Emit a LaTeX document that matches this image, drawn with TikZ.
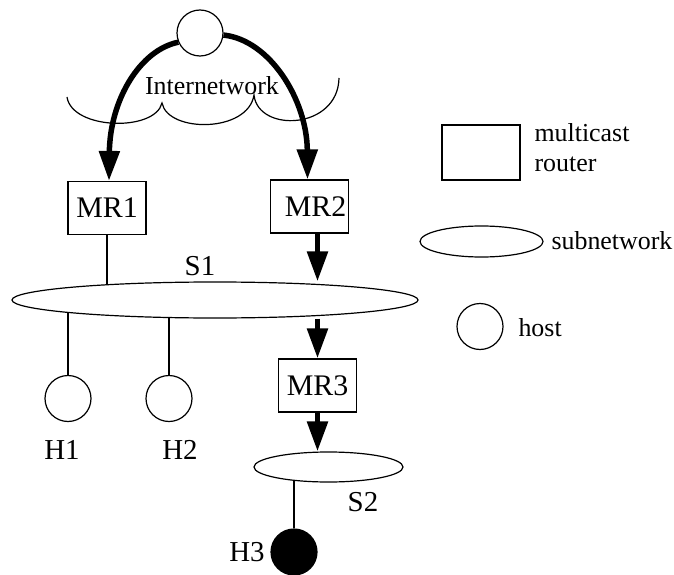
\documentclass[tikz,border=0pt]{standalone}
\usepackage{fontspec}
\setmainfont{Liberation Serif}
\usetikzlibrary{arrows.meta,shapes.geometric,backgrounds}
\begin{document}
\begin{tikzpicture}[x=1bp,y=-1bp,
  thin line/.style={line width=1.2bp},
  router/.style={draw,thin line,fill=white,minimum width=78bp,minimum height=53bp,
    inner sep=0pt,font=\fontsize{30}{34}\selectfont},
  subnet/.style={draw,thin line,fill=white,ellipse,inner sep=0pt},
  host/.style={draw,thin line,fill=white,circle,minimum size=46bp,inner sep=0pt},
  flow/.style={line width=5.5bp,-{Triangle[length=30bp,width=20bp]}},
  lbl/.style={font=\fontsize{29}{33}\selectfont},
  keytext/.style={font=\fontsize{26}{30}\selectfont},
]
\useasboundingbox (0,0) rectangle (674,575);

% internetwork cloud outline
\draw[thin line] (67,97) .. controls (72,130) and (155,132) .. (162,103)
  .. controls (168,133) and (248,133) .. (254,95)
  .. controls (258,133) and (338,130) .. (339,78);
\node[keytext] (inet) at (212,86) {Internetwork};

% source host and routers
\node[host] (src) at (200,33) {};
\node[router] (mr1) at (107,208) {MR1};
\node[router,label={[font=\fontsize{30}{34}\selectfont,xshift=6bp]center:MR2}] (mr2) at (309.5,206.5) {};
\node[router] (mr3) at (317.5,385.5) {MR3};

% subnetworks
\node[subnet,minimum width=406bp,minimum height=36bp] (s1) at (215,300) {};
\node[lbl] (s1lbl) at (200,266) {S1};
\node[subnet,minimum width=149bp,minimum height=30bp] (s2) at (328.5,467) {};
\node[lbl] (s2lbl) at (363,502) {S2};

% hosts
\node[host] (h1) at (68,398.5) {};
\node[host] (h2) at (169,398.5) {};
\node[host,fill=black] (h3) at (294,552) {};
\node[lbl] (h1lbl) at (62,450) {H1};
\node[lbl] (h2lbl) at (180,450) {H2};
\node[lbl] (h3lbl) at (247,552) {H3};

% attachment lines, hidden behind the filled shapes
\begin{scope}[on background layer]
  \draw[thin line] (mr1.south) -- (mr1.south |- s1.center);
  \draw[thin line] (h1.north) -- (h1.north |- s1.center);
  \draw[thin line] (h2.north) -- (h2.north |- s1.center);
  \draw[thin line] (h3.north) -- (h3.north |- s2.center);
\end{scope}

% multicast delivery path
\draw[flow] (src.203) .. controls (140,50) and (110,100) .. ([xshift=2bp]mr1.north);
\draw[flow] (src.355) .. controls (270,40) and (307,100) .. ([xshift=-2bp]mr2.north);
\draw[flow] ([xshift=8bp]mr2.south) -- ([xshift=8bp]mr2.south |- s1.north);
\draw[flow] (mr3.north |- s1.south) -- (mr3.north);
\draw[flow] (mr3.south) -- (mr3.south |- s2.north);

% key
\node[draw,thin line,minimum width=78bp,minimum height=55bp,inner sep=0pt] (keyrouter) at (481,152.5) {};
\node[keytext,align=left,anchor=west] (keyroutertxt) at (531,148) {multicast\\router};
\node[subnet,minimum width=123bp,minimum height=31bp] (keysubnet) at (481.5,241.5) {};
\node[keytext,anchor=west] (keysubnettxt) at (548,241) {subnetwork};
\node[host] (keyhost) at (480,326.5) {};
\node[keytext,anchor=west] (keyhosttxt) at (515,328) {host};
\end{tikzpicture}
\end{document}
